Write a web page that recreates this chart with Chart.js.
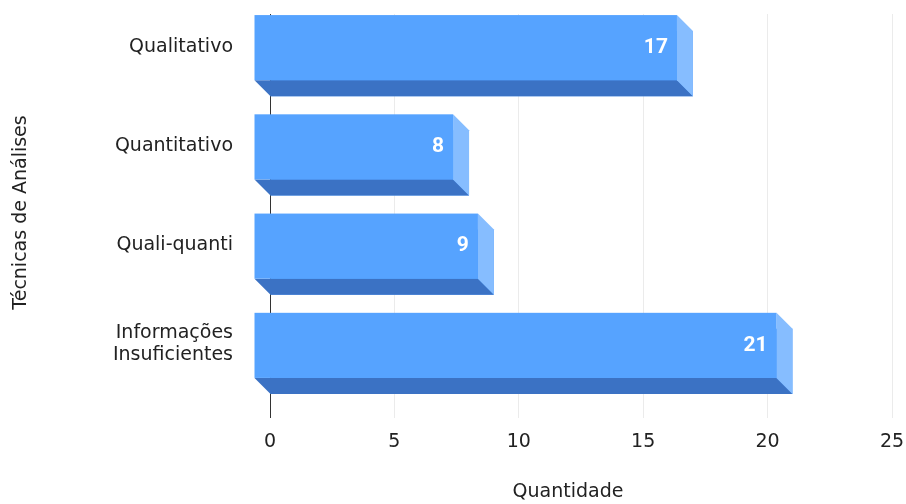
<!DOCTYPE html>
<html>
<head>
<meta charset="utf-8">
<script src="https://cdn.jsdelivr.net/npm/chart.js@4.4.1/dist/chart.umd.min.js"></script>
<style>
  html, body { margin: 0; padding: 0; background: #fff; }
</style>
</head>
<body>
<canvas id="chart" width="906" height="504"></canvas>
<script>
const categories = ['Qualitativo', 'Quantitativo', 'Quali-quanti', ['Informações', 'Insuficientes']];
const quantidade = [17, 8, 9, 21];
const xTicks = [0, 5, 10, 15, 20, 25];
const xTitle = 'Quantidade';
const yTitle = 'Técnicas de Análises';

const depth = 16; // deslocamento do efeito 3D
const frontColor = '#56a3ff';
const bottomColor = '#3b72c4';
const sideColor = '#86bdff';
const axisFont = {family: 'DejaVu Sans', size: 19};

// desenha as faces 3D por cima da barra "de fundo" do Chart.js
const bar3d = {
    id: 'bar3d',
    afterDatasetsDraw(chart) {
        const ctx = chart.ctx;
        const meta = chart.getDatasetMeta(0);
        ctx.save();
        meta.data.forEach((bar, i) => {
            const {x, y, base, height} = bar.getProps(['x', 'y', 'base', 'height'], true);
            const top = y - height / 2;
            const bottom = y + height / 2;

            ctx.fillStyle = bottomColor;
            ctx.beginPath();
            ctx.moveTo(base - depth, bottom - depth);
            ctx.lineTo(x - depth, bottom - depth);
            ctx.lineTo(x, bottom);
            ctx.lineTo(base, bottom);
            ctx.closePath();
            ctx.fill();

            ctx.fillStyle = sideColor;
            ctx.beginPath();
            ctx.moveTo(x - depth, top - depth);
            ctx.lineTo(x, top);
            ctx.lineTo(x, bottom);
            ctx.lineTo(x - depth, bottom - depth);
            ctx.closePath();
            ctx.fill();

            ctx.fillStyle = frontColor;
            ctx.fillRect(base - depth, top - depth, x - base, height);

            ctx.fillStyle = '#ffffff';
            ctx.font = 'bold 21px Roboto';
            ctx.textAlign = 'right';
            ctx.textBaseline = 'middle';
            ctx.fillText(String(quantidade[i]), x - depth - 9, y - depth);
        });
        ctx.restore();
    },
    // título do eixo x, centralizado como no original (um pouco à esquerda do centro da área)
    afterDraw(chart) {
        const ctx = chart.ctx;
        const xs = chart.scales.x;
        ctx.save();
        ctx.font = axisFont.size + 'px "' + axisFont.family + '"';
        ctx.fillStyle = '#222';
        ctx.textAlign = 'center';
        ctx.textBaseline = 'middle';
        ctx.fillText(xTitle, (xs.left + xs.right) / 2 - 13, xs.bottom - 12);
        ctx.restore();
    }
};

new Chart(document.getElementById('chart'), {
    type: 'bar',
    data: {
        labels: categories,
        datasets: [{
            label: xTitle,
            data: quantidade,
            backgroundColor: frontColor,
            borderWidth: 0,
            categoryPercentage: 1,
            barPercentage: 0.656
        }]
    },
    options: {
        indexAxis: 'y',
        responsive: false,
        animation: false,
        devicePixelRatio: 1,
        layout: {
            padding: {top: 14, right: 14, left: 0, bottom: 0}
        },
        plugins: {
            legend: {display: false},
            tooltip: {enabled: false}
        },
        scales: {
            x: {
                min: 0,
                max: 25,
                afterBuildTicks: scale => {
                    scale.ticks = xTicks.map(v => ({value: v}));
                },
                afterFit: scale => {
                    scale.height = 93;
                    scale.paddingLeft = 0;
                    scale.paddingRight = 0;
                },
                grid: {
                    color: c => (c.tick && c.tick.value === 0) ? '#333333' : '#ebebeb',
                    lineWidth: 1,
                    tickLength: 7,
                    drawTicks: true
                },
                border: {display: false},
                ticks: {
                    font: axisFont,
                    color: '#222',
                    padding: 13
                },
                title: {display: false}
            },
            y: {
                afterFit: scale => {
                    scale.width = 270;
                    scale.paddingTop = 0;
                    scale.paddingBottom = 0;
                },
                grid: {display: false, drawTicks: false},
                border: {display: false},
                ticks: {
                    font: {family: 'DejaVu Sans', size: 19, lineHeight: 1.16},
                    color: '#222',
                    padding: 37,
                    labelOffset: -17
                },
                title: {
                    display: true,
                    text: yTitle,
                    font: axisFont,
                    color: '#222',
                    padding: {top: 10, bottom: 0}
                }
            }
        }
    },
    plugins: [bar3d]
});
</script>
</body>
</html>
